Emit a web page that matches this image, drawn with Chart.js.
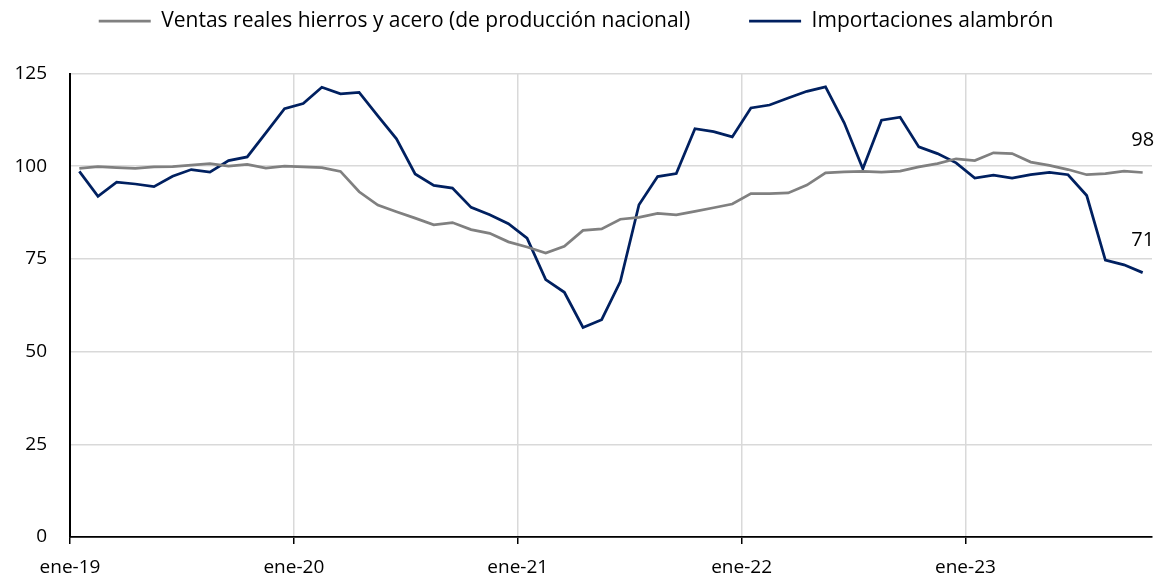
<!DOCTYPE html>
<html>
<head>
<meta charset="utf-8">
<script src="https://cdn.jsdelivr.net/npm/chart.js@4.4.1/dist/chart.umd.min.js"></script>
<style>
  body { margin: 0; background: #fff; }
  #wrap { width: 1156px; height: 577px; position: relative; }
</style>
</head>
<body>
<div id="wrap"><canvas id="steelChart"></canvas></div>
<script>
// monthly series, ene-19 .. oct-23
const tickLabels = ['ene-19', 'ene-20', 'ene-21', 'ene-22', 'ene-23'];

const ventasReales = [
  99.4, 99.9, 99.6, 99.4, 99.8, 99.9, 100.3, 100.7, 100.0, 100.5, 99.5, 100.0,
  99.8, 99.6, 98.6, 93.1, 89.5, 87.7, 86.0, 84.2, 84.8, 82.9, 81.9, 79.6,
  78.2, 76.6, 78.4, 82.7, 83.1, 85.7, 86.2, 87.3, 86.9, 87.8, 88.8, 89.8,
  92.6, 92.6, 92.8, 94.9, 98.2, 98.5, 98.6, 98.4, 98.7, 99.8, 100.7, 102.0,
  101.5, 103.6, 103.4, 101.1, 100.2, 99.1, 97.7, 98.0, 98.7, 98.3
];

const importAlambron = [
  98.6, 91.9, 95.7, 95.2, 94.5, 97.3, 99.1, 98.4, 101.5, 102.5, 109.0, 115.5,
  116.9, 121.3, 119.5, 119.9, 113.6, 107.4, 97.9, 94.8, 94.1, 88.9, 86.9, 84.5,
  80.6, 69.4, 66.0, 56.5, 58.6, 68.9, 89.6, 97.2, 98.0, 110.1, 109.3, 107.9,
  115.7, 116.5, 118.4, 120.2, 121.4, 111.7, 99.3, 112.4, 113.2, 105.2, 103.4, 100.9,
  96.8, 97.6, 96.8, 97.7, 98.3, 97.7, 92.1, 74.7, 73.4, 71.3
];

const FONT = 'Open Sans';
const nMonths = ventasReales.length;

// points sit in the middle of each month
const toPoints = arr => arr.map((v, i) => ({ x: i + 0.5, y: v }));

// label the last value of each line
const endLabels = {
  id: 'endLabels',
  afterDatasetsDraw(chart) {
    const ctx = chart.ctx;
    ctx.save();
    ctx.font = '20px "' + FONT + '"';
    ctx.fillStyle = '#000';
    ctx.textAlign = 'center';
    ctx.textBaseline = 'middle';
    chart.data.datasets.forEach((ds, i) => {
      const meta = chart.getDatasetMeta(i);
      const last = meta.data[meta.data.length - 1];
      const v = ds.data[ds.data.length - 1].y;
      ctx.fillText(Math.round(v), last.x, last.y - 32);
    });
    ctx.restore();
  }
};

// extra space between legend and plot
const legendGap = {
  id: 'legendGap',
  beforeInit(chart) {
    const fit = chart.legend.fit;
    chart.legend.fit = function () {
      fit.call(this);
      this.height += 32;
    };
  }
};

new Chart(document.getElementById('steelChart'), {
  type: 'line',
  data: {
    datasets: [
      {
        label: 'Ventas reales hierros y acero (de producción nacional)',
        data: toPoints(ventasReales),
        borderColor: '#808080',
        backgroundColor: '#808080',
        borderWidth: 2.75,
        pointRadius: 0,
        tension: 0
      },
      {
        label: 'Importaciones alambrón',
        data: toPoints(importAlambron),
        borderColor: '#002060',
        backgroundColor: '#002060',
        borderWidth: 2.75,
        pointRadius: 0,
        tension: 0
      }
    ]
  },
  options: {
    responsive: true,
    maintainAspectRatio: false,
    animation: false,
    layout: { padding: { top: -48.5, right: 4, bottom: 0, left: 0 } },
    plugins: {
      legend: {
        position: 'top',
        labels: {
          usePointStyle: true,
          pointStyle: 'line',
          pointStyleWidth: 52,
          padding: 59,
          color: '#000',
          font: { family: FONT, size: 21 }
        }
      },
      tooltip: { enabled: false }
    },
    scales: {
      x: {
        type: 'linear',
        min: 0,
        max: nMonths,
        afterBuildTicks: s => {
          s.ticks = tickLabels.map((_, k) => ({ value: k * 12 }));
        },
        afterFit: s => { s.height = 40; },
        ticks: {
          callback: v => tickLabels[v / 12],
          color: '#000',
          font: { family: FONT, size: 19 },
          padding: 12.5,
          maxRotation: 0
        },
        grid: {
          color: '#d9d9d9',
          lineWidth: 1.5,
          tickColor: '#000',
          tickLength: 7
        },
        border: { color: '#000', width: 1.75 }
      },
      y: {
        min: 0,
        max: 125,
        afterFit: s => { s.width = 70; },
        ticks: {
          stepSize: 25,
          color: '#000',
          font: { family: FONT, size: 19 },
          padding: 23
        },
        grid: {
          color: '#d9d9d9',
          lineWidth: 1.5,
          drawTicks: false
        },
        border: { color: '#000', width: 2 }
      }
    }
  },
  plugins: [endLabels, legendGap]
});
</script>
</body>
</html>
